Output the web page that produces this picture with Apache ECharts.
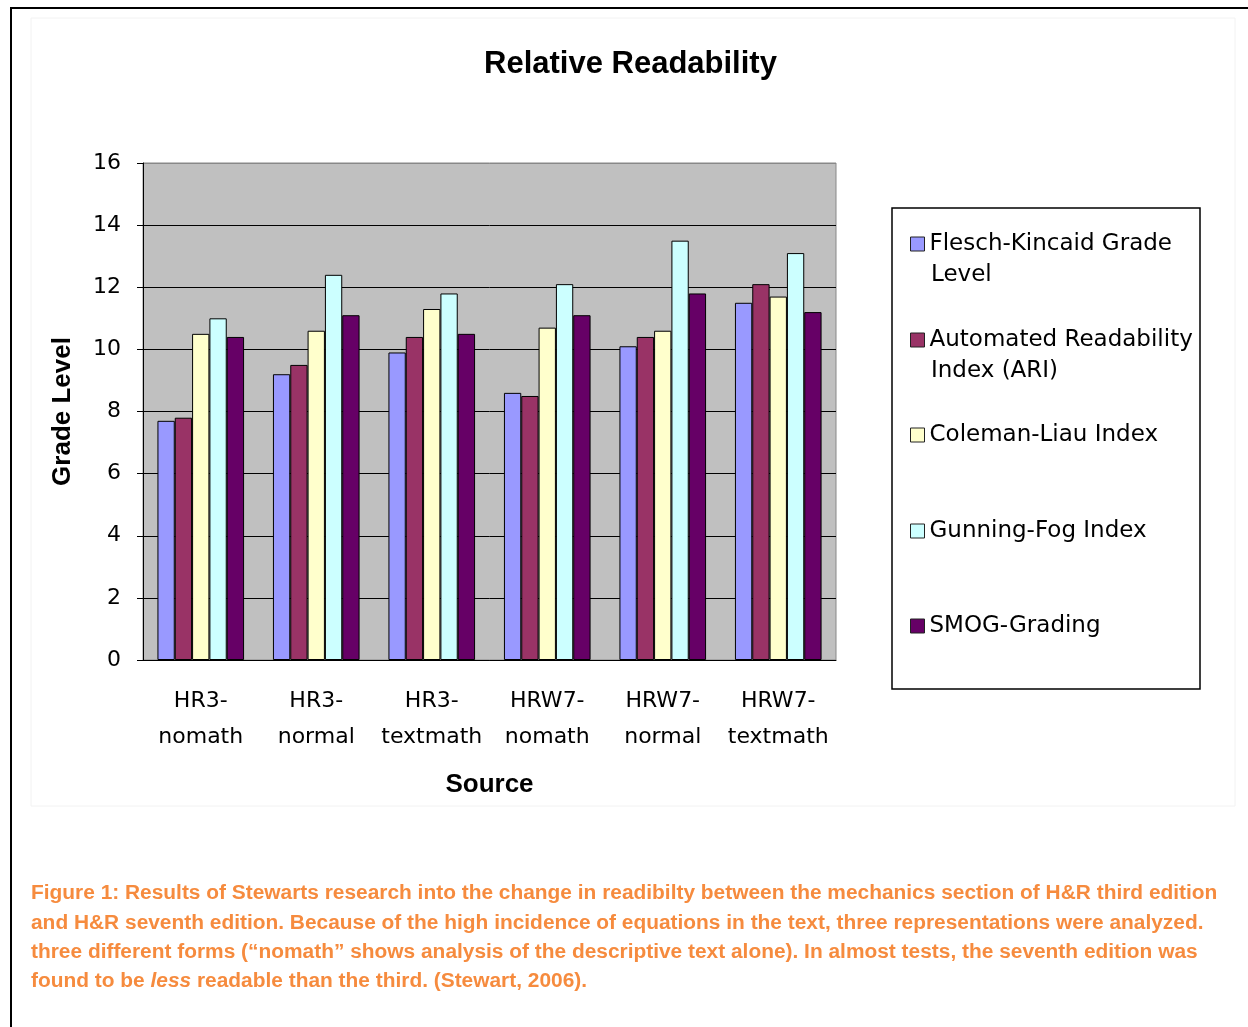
<!DOCTYPE html>
<html>
<head>
<meta charset="utf-8">
<script src="https://cdn.jsdelivr.net/npm/echarts@6/dist/echarts.min.js"></script>
<style>html,body{margin:0;padding:0;background:#fff;}#c{width:1248px;height:1027px;}</style>
</head>
<body>
<div id="c"></div>
<script>
const categories = ['HR3-\nnomath', 'HR3-\nnormal', 'HR3-\ntextmath', 'HRW7-\nnomath', 'HRW7-\nnormal', 'HRW7-\ntextmath'];
const seriesNames = ['Flesch-Kincaid Grade Level', 'Automated Readability Index (ARI)', 'Coleman-Liau Index', 'Gunning-Fog Index', 'SMOG-Grading'];
const legendFirstLines = ['Flesch-Kincaid Grade', 'Automated Readability', 'Coleman-Liau Index', 'Gunning-Fog Index', 'SMOG-Grading'];
const legendSecondLines = ['Level', 'Index (ARI)', '', '', ''];
const fleschKincaid = [7.7, 9.2, 9.9, 8.6, 10.1, 11.5];
const ari = [7.8, 9.5, 10.4, 8.5, 10.4, 12.1];
const colemanLiau = [10.5, 10.6, 11.3, 10.7, 10.6, 11.7];
const gunningFog = [11.0, 12.4, 11.8, 12.1, 13.5, 13.1];
const smog = [10.4, 11.1, 10.5, 11.1, 11.8, 11.2];
const yTicks = [0, 2, 4, 6, 8, 10, 12, 14, 16];
const colors = ['#9999FF', '#993366', '#FFFFCC', '#CCFFFF', '#660066'];
const values = [fleschKincaid, ari, colemanLiau, gunningFog, smog];

const FONT = '"DejaVu Sans", sans-serif';
const BFONT = '"Liberation Sans", Arial, sans-serif';
const chart = echarts.init(document.getElementById('c'));

const legendCenters = [241, 337, 432, 528, 623];
const legends = seriesNames.map((n, i) => ({
  data: [n],
  orient: 'vertical',
  left: 910,
  top: legendCenters[i] - 13,
  padding: 0,
  itemWidth: 14,
  itemHeight: 14,
  itemGap: 9,
  selectedMode: false,
  icon: 'rect',
  itemStyle: { borderColor: '#222', borderWidth: 1 },
  formatter: () => legendFirstLines[i],
  textStyle: { fontFamily: FONT, fontSize: 23, color: '#000', lineHeight: 32 }
}));

const secondLineGraphics = legendSecondLines.map((t, i) => t ? {
  type: 'text', left: 931, top: legendCenters[i] + 32 - 14, silent: true,
  style: { text: t, fill: '#000', font: '23px "DejaVu Sans", sans-serif', lineHeight: 32 }
} : null).filter(Boolean);

const option = {
  backgroundColor: '#fff',
  animation: false,
  title: {
    text: 'Relative Readability',
    left: 479, top: 44,
    textStyle: { fontFamily: BFONT, fontSize: 31, fontWeight: 'bold', color: '#000' }
  },
  legend: legends,
  grid: {
    left: 143, right: 412, top: 163, bottom: 367,
    show: true, backgroundColor: '#C0C0C0', borderColor: '#888', borderWidth: 1
  },
  xAxis: {
    type: 'category',
    data: categories,
    name: 'Source',
    nameLocation: 'middle',
    nameGap: 112,
    nameTextStyle: { fontFamily: BFONT, fontSize: 26, fontWeight: 'bold', color: '#000' },
    axisLine: { lineStyle: { color: '#000', width: 1 } },
    axisTick: { length: 8, lineStyle: { color: '#000' } },
    axisLabel: { fontFamily: FONT, fontSize: 22, color: '#000', lineHeight: 36, margin: 23, interval: 0 }
  },
  yAxis: {
    type: 'value',
    min: yTicks[0], max: yTicks[yTicks.length - 1], interval: 2,
    name: 'Grade Level',
    nameLocation: 'middle',
    nameGap: 67,
    nameRotate: 90,
    nameTextStyle: { fontFamily: BFONT, fontSize: 26, fontWeight: 'bold', color: '#000' },
    axisLine: { show: true, lineStyle: { color: '#000', width: 1 } },
    axisTick: { show: true, length: 6, lineStyle: { color: '#000' } },
    axisLabel: { fontFamily: FONT, fontSize: 22, color: '#000', margin: 22 },
    splitLine: { show: true, lineStyle: { color: ['#000', '#000', '#000', '#000', '#000', '#000', '#000', '#000', '#888'], width: 1 } }
  },
  series: seriesNames.map((n, i) => ({
    name: n,
    type: 'bar',
    data: values[i],
    barGap: '0%',
    barCategoryGap: '25%',
    itemStyle: { color: colors[i], borderColor: '#000', borderWidth: 1 }
  })),
  graphic: [
    { type: 'rect', shape: { x: 11, y: 8, width: 1260, height: 1040 }, style: { fill: 'none', stroke: '#000', lineWidth: 2 }, silent: true },
    { type: 'rect', shape: { x: 31, y: 18, width: 1204, height: 788 }, style: { fill: 'none', stroke: '#f2f2f2', lineWidth: 1 }, silent: true },
    { type: 'rect', shape: { x: 892, y: 208, width: 308, height: 481 }, style: { fill: 'none', stroke: '#000', lineWidth: 1.5 }, silent: true },
    ...secondLineGraphics,
    {
      type: 'text', left: 31, top: 879, silent: true,
      style: {
        text: 'Figure 1: Results of Stewarts research into the change in readibilty between the mechanics section of H&R third edition\nand H&R seventh edition. Because of the high incidence of equations in the text, three representations were analyzed.\nthree different forms (“nomath” shows analysis of the descriptive text alone). In almost tests, the seventh edition was\nfound to be {i|less} readable than the third. (Stewart, 2006).',
        fill: '#F68B3E',
        font: 'bold 20.9px "Liberation Sans Narrow", "Liberation Sans", sans-serif',
        lineHeight: 29.3,
        rich: { i: { fontStyle: 'italic', fontWeight: 'bold', fontSize: 20.9, fontFamily: '"Liberation Sans Narrow", "Liberation Sans", sans-serif', fill: '#F68B3E', lineHeight: 29.3 } }
      }
    }
  ]
};
chart.setOption(option);
</script>
</body>
</html>
